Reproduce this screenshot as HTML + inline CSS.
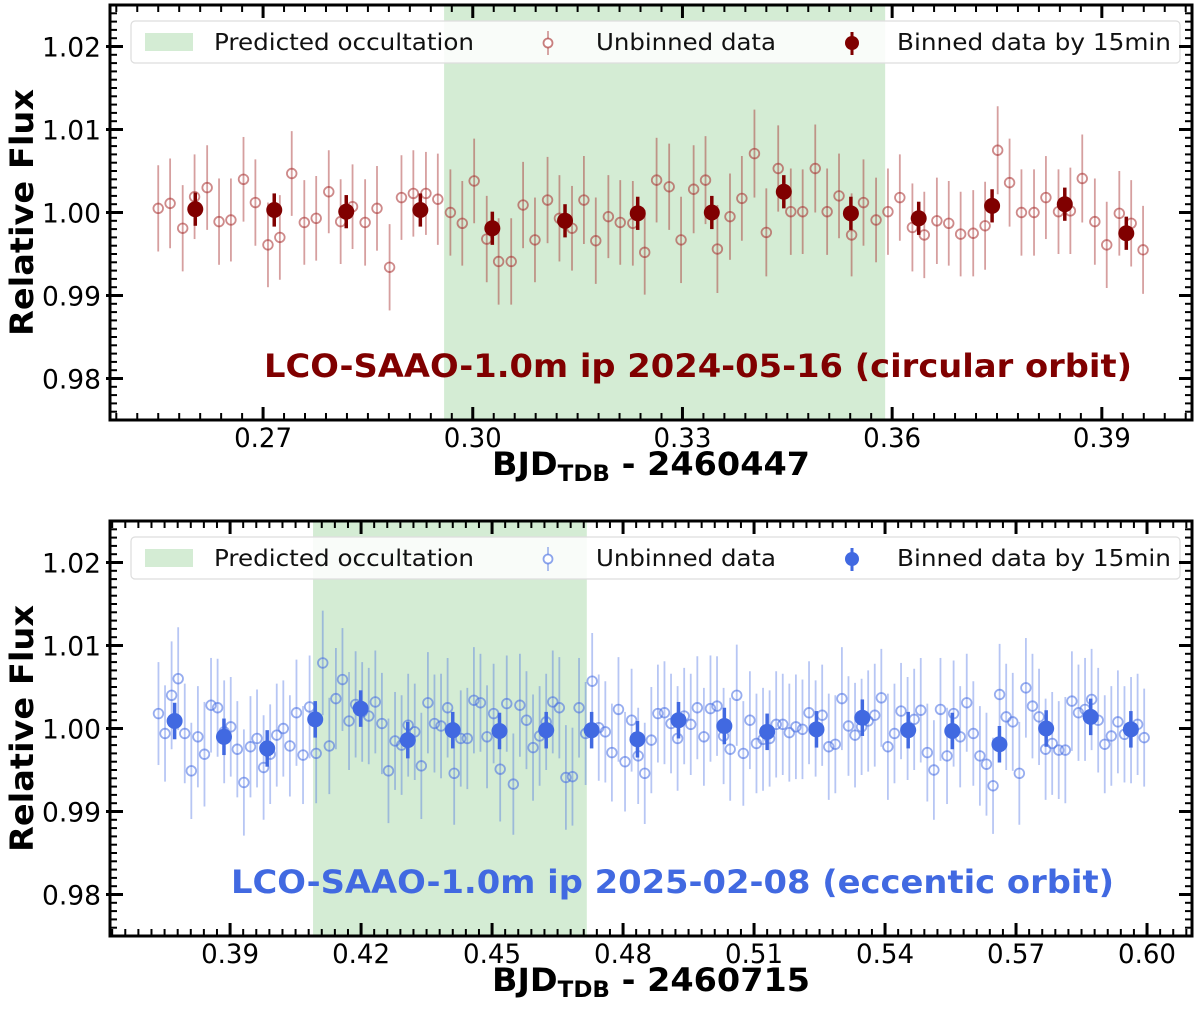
<!DOCTYPE html>
<html><head><meta charset="utf-8"><style>
html,body{margin:0;padding:0;background:#fff;}
svg{display:block;font-family:"DejaVu Sans","Liberation Sans",sans-serif;}
</style></head><body>
<svg id="fig" width="1200" height="1009" viewBox="0 0 1200 1009" xmlns="http://www.w3.org/2000/svg"></svg>
<script>
// ---------- TOP PANEL DATA ----------
const topTimes=[0.2550,0.2567,0.2585,0.2602,0.2620,0.2637,0.2654,0.2672,0.2689,0.2707,0.2724,0.2741,0.2759,0.2776,0.2794,0.2811,0.2828,0.2846,0.2863,0.2881,0.2898,0.2915,0.2933,0.2950,0.2968,0.2985,0.3002,0.3020,0.3037,0.3055,0.3072,0.3089,0.3107,0.3124,0.3142,0.3159,0.3176,0.3194,0.3211,0.3229,0.3246,0.3263,0.3281,0.3298,0.3316,0.3333,0.3350,0.3368,0.3385,0.3403,0.3420,0.3437,0.3455,0.3472,0.3490,0.3507,0.3524,0.3542,0.3559,0.3577,0.3594,0.3611,0.3629,0.3646,0.3664,0.3681,0.3698,0.3716,0.3733,0.3751,0.3768,0.3785,0.3803,0.3820,0.3838,0.3855,0.3872,0.3890,0.3907,0.3925,0.3942,0.3959];
const topFlux=[0.0005,0.0011,-0.0019,0.0019,0.0030,-0.0011,-0.0009,0.0040,0.0012,-0.0039,-0.0030,0.0047,-0.0012,-0.0007,0.0025,-0.0011,0.0007,-0.0012,0.0005,-0.0066,0.0018,0.0023,0.0023,0.0016,0.0000,-0.0013,0.0038,-0.0032,-0.0059,-0.0059,0.0009,-0.0033,0.0015,-0.0007,-0.0019,0.0015,-0.0034,-0.0005,-0.0012,-0.0013,-0.0048,0.0039,0.0031,-0.0033,0.0028,0.0039,-0.0044,-0.0005,0.0017,0.0071,-0.0024,0.0053,0.0001,0.0001,0.0053,0.0001,0.0020,-0.0027,0.0012,-0.0009,0.0001,0.0018,-0.0018,-0.0027,-0.0010,-0.0013,-0.0026,-0.0025,-0.0016,0.0075,0.0036,0.0000,0.0000,0.0018,0.0001,0.0002,0.0041,-0.0011,-0.0039,-0.0001,-0.0013,-0.0045];
const topErr=[0.0052,0.0054,0.0052,0.0051,0.0051,0.0052,0.0050,0.0051,0.0052,0.0051,0.0051,0.0051,0.0051,0.0051,0.0050,0.0051,0.0051,0.0052,0.0051,0.0052,0.0051,0.0052,0.0050,0.0055,0.0052,0.0051,0.0051,0.0052,0.0052,0.0052,0.0052,0.0051,0.0052,0.0052,0.0051,0.0053,0.0052,0.0050,0.0051,0.0051,0.0051,0.0051,0.0052,0.0052,0.0053,0.0053,0.0053,0.0052,0.0051,0.0053,0.0053,0.0052,0.0052,0.0051,0.0053,0.0052,0.0051,0.0050,0.0052,0.0051,0.0052,0.0052,0.0053,0.0052,0.0052,0.0051,0.0051,0.0052,0.0053,0.0053,0.0053,0.0052,0.0052,0.0050,0.0051,0.0052,0.0053,0.0052,0.0052,0.0051,0.0052,0.0053];
const topBinTimes=[0.2603,0.2716,0.2819,0.2925,0.3028,0.3132,0.3236,0.3342,0.3445,0.3541,0.3638,0.3743,0.3847,0.3935];
const topBinFlux=[0.0004,0.0003,0.0001,0.0003,-0.0019,-0.0010,-0.0001,0.0000,0.0025,-0.0001,-0.0007,0.0008,0.0010,-0.0025];
const topBinErr=[0.0020,0.0020,0.0020,0.0020,0.0020,0.0020,0.0020,0.0020,0.0020,0.0020,0.0020,0.0020,0.0020,0.0020];
const topXTicks=[0.27,0.30,0.33,0.36,0.39];
const topXTickLabels=["0.27","0.30","0.33","0.36","0.39"];
const topShade=[0.2959,0.3590];
// ---------- BOTTOM PANEL DATA ----------
const botStart=0.3736, botCadence=0.001505;
const botFlux=[0.0018,-0.0006,0.0040,0.0060,-0.0006,-0.0051,-0.0010,-0.0031,0.0028,0.0025,-0.0004,0.0002,-0.0025,-0.0065,-0.0022,-0.0012,-0.0047,-0.0031,-0.0008,0.0000,-0.0021,0.0019,-0.0032,0.0026,-0.0030,0.0079,-0.0021,0.0036,0.0059,0.0009,0.0029,0.0020,0.0015,0.0032,0.0006,-0.0051,-0.0015,-0.0020,0.0004,-0.0004,-0.0045,0.0031,0.0006,0.0003,0.0025,-0.0054,-0.0012,-0.0012,0.0034,0.0031,-0.0010,0.0018,-0.0049,0.0030,-0.0067,0.0028,0.0010,-0.0023,-0.0009,0.0008,0.0032,0.0025,-0.0059,-0.0058,0.0025,-0.0006,0.0057,0.0001,-0.0004,-0.0029,0.0023,-0.0040,0.0010,-0.0033,-0.0054,-0.0014,0.0018,0.0019,0.0006,-0.0012,0.0015,0.0005,0.0025,-0.0010,0.0024,0.0027,-0.0009,-0.0025,0.0040,-0.0030,0.0010,-0.0018,-0.0013,-0.0012,0.0005,0.0005,-0.0005,0.0002,-0.0001,0.0019,0.0000,0.0016,-0.0022,-0.0019,0.0036,0.0003,-0.0008,0.0002,0.0009,0.0016,0.0037,-0.0022,-0.0006,0.0021,0.0000,0.0011,0.0022,-0.0029,-0.0050,0.0023,-0.0033,0.0018,-0.0010,0.0031,-0.0006,-0.0033,-0.0043,-0.0069,0.0041,0.0014,0.0008,-0.0054,0.0049,0.0027,0.0014,-0.0025,-0.0018,-0.0026,-0.0026,0.0033,0.0019,0.0023,0.0035,0.0010,-0.0019,-0.0009,0.0008,-0.0007,-0.0002,0.0005,-0.0011];
const botErr=[0.0062,0.0058,0.0065,0.0062,0.0060,0.0058,0.0061,0.0063,0.0057,0.0059,0.0062,0.0060,0.0058,0.0064,0.0061,0.0059,0.0063,0.0060,0.0062,0.0058,0.0061,0.0064,0.0059,0.0062,0.0060,0.0063,0.0058,0.0061,0.0062,0.0059,0.0064,0.0060,0.0058,0.0062,0.0061,0.0063,0.0059,0.0060,0.0062,0.0058,0.0064,0.0061,0.0059,0.0063,0.0060,0.0062,0.0058,0.0061,0.0064,0.0059,0.0062,0.0060,0.0063,0.0058,0.0061,0.0062,0.0059,0.0064,0.0060,0.0058,0.0062,0.0061,0.0063,0.0059,0.0060,0.0062,0.0058,0.0064,0.0061,0.0059,0.0063,0.0060,0.0062,0.0058,0.0061,0.0064,0.0059,0.0062,0.0060,0.0063,0.0058,0.0061,0.0062,0.0059,0.0064,0.0060,0.0058,0.0062,0.0061,0.0063,0.0059,0.0060,0.0062,0.0058,0.0064,0.0061,0.0059,0.0063,0.0060,0.0062,0.0058,0.0061,0.0064,0.0059,0.0062,0.0060,0.0063,0.0058,0.0061,0.0062,0.0059,0.0064,0.0060,0.0058,0.0062,0.0061,0.0063,0.0059,0.0060,0.0062,0.0058,0.0064,0.0061,0.0059,0.0063,0.0060,0.0062,0.0058,0.0061,0.0064,0.0059,0.0062,0.0060,0.0063,0.0058,0.0061,0.0062,0.0059,0.0064,0.0060,0.0058,0.0062,0.0061,0.0063,0.0059,0.0060,0.0062,0.0058,0.0064,0.0061,0.0059];
const botBinTimes=[0.3773,0.3886,0.3985,0.4095,0.4199,0.4307,0.4410,0.4517,0.4624,0.4728,0.4833,0.4927,0.5032,0.5130,0.5243,0.5348,0.5453,0.5554,0.5662,0.5769,0.5871,0.5963];
const botBinFlux=[0.0009,-0.0010,-0.0024,0.0011,0.0024,-0.0014,-0.0002,-0.0003,-0.0002,-0.0002,-0.0013,0.0010,0.0003,-0.0004,-0.0001,0.0013,-0.0002,-0.0003,-0.0019,0.0000,0.0014,-0.0001];
const botBinErr=[0.0022,0.0022,0.0022,0.0022,0.0022,0.0022,0.0022,0.0022,0.0022,0.0022,0.0022,0.0022,0.0022,0.0022,0.0022,0.0022,0.0022,0.0022,0.0022,0.0022,0.0022,0.0022];
const botXTicks=[0.39,0.42,0.45,0.48,0.51,0.54,0.57,0.60];
const botXTickLabels=["0.39","0.42","0.45","0.48","0.51","0.54","0.57","0.60"];
const botShade=[0.4090,0.4717];
const yTicks=[0.98,0.99,1.00,1.01,1.02];
const yTickLabels=["0.98","0.99","1.00","1.01","1.02"];

const NS="http://www.w3.org/2000/svg";
const svg=document.getElementById('fig');
function mk(tag,attrs,parent,text){const e=document.createElementNS(NS,tag);for(const k in attrs)e.setAttribute(k,attrs[k]);if(text!==undefined)e.textContent=text;(parent||svg).appendChild(e);return e;}

function panel(cfg){
  const L=110,R=1192,T=cfg.top,B=cfg.top+415;
  const xs=v=>L+(v-cfg.xmin)/(cfg.xmax-cfg.xmin)*(R-L);
  const ys=v=>B-(v-0.975)/(0.05)*(B-T);
  const g=mk('g',{});
  
  
  const sh=mk('rect',{x:xs(cfg.shade[0]),y:T,width:xs(cfg.shade[1])-xs(cfg.shade[0]),height:B-T,fill:'#d4ecd4'},g);
  
  
  const ug=mk('g',{},g);
  
  
  for(let i=0;i<cfg.flux.length;i++){
    const t=cfg.times[i],x=xs(t),y=ys(1+cfg.flux[i]),e=cfg.err[i];
    const ln=mk('line',{x1:x,x2:x,y1:ys(1+cfg.flux[i]+e),y2:ys(1+cfg.flux[i]-e),stroke:cfg.color,'stroke-opacity':cfg.errOp,'stroke-width':1.8},ug);
    
    
    const c=mk('circle',{cx:x,cy:y,r:4.8,fill:'none',stroke:cfg.color,'stroke-opacity':0.55,'stroke-width':1.8},ug);
    
    
  }
  const bg=mk('g',{},g);
  
  
  for(let i=0;i<cfg.binTimes.length;i++){
    const x=xs(cfg.binTimes[i]),v=1+cfg.binFlux[i],e=cfg.binErr[i];
    const ln=mk('line',{x1:x,x2:x,y1:ys(v+e),y2:ys(v-e),stroke:cfg.dark,'stroke-width':3.5},bg);
    
    
    const c=mk('circle',{cx:x,cy:ys(v),r:8,fill:cfg.dark},bg);
    
    
  }
  const lg=mk('g',{},g);
  
  
  mk('rect',{x:131,y:T+16,width:1049,height:42,rx:4,fill:'#fff','fill-opacity':0.85,stroke:'#ddd','stroke-width':1.2},lg);
  mk('rect',{x:145,y:T+28,width:48,height:18,fill:'#d4ecd4'},lg);
  const t1=mk('text',{x:214,y:T+45,'font-size':23,fill:'#111',textLength:260,lengthAdjust:'spacingAndGlyphs'},lg,'Predicted occultation');
  
  
  mk('line',{x1:548,x2:548,y1:T+26,y2:T+50,stroke:cfg.color,'stroke-opacity':0.45,'stroke-width':1.8},lg);
  mk('circle',{cx:548,cy:T+38,r:4.5,fill:'#fff',stroke:cfg.color,'stroke-opacity':0.6,'stroke-width':1.8},lg);
  const t2=mk('text',{x:596,y:T+45,'font-size':23,fill:'#111',textLength:180,lengthAdjust:'spacingAndGlyphs'},lg,'Unbinned data');
  
  
  mk('line',{x1:852,x2:852,y1:T+27,y2:T+50,stroke:cfg.dark,'stroke-width':3},lg);
  mk('circle',{cx:852,cy:T+38,r:7,fill:cfg.dark},lg);
  const t3=mk('text',{x:897,y:T+45,'font-size':23,fill:'#111',textLength:274,lengthAdjust:'spacingAndGlyphs'},lg,'Binned data by 15min');
  
  
  const an=mk('text',{x:cfg.annX,y:cfg.top+372,'font-size':32,'font-weight':'bold',fill:cfg.dark,textLength:cfg.annW,lengthAdjust:'spacingAndGlyphs'},g,cfg.ann);
  
  
  const tk=mk('g',{stroke:'#000'},g);
  
  
  for(let v=cfg.xminor0;v<=cfg.xmax+1e-9;v+=0.003){
    if(v<cfg.xmin)continue;const x=xs(v);
    mk('line',{x1:x,x2:x,y1:B,y2:B-7,'stroke-width':2},tk);
    mk('line',{x1:x,x2:x,y1:T,y2:T+7,'stroke-width':2},tk);
  }
  for(let k=0;k<=50;k++){const y=ys(0.975+k*0.001);
    mk('line',{x1:L,x2:L+7,y1:y,y2:y,'stroke-width':2},tk);
    mk('line',{x1:R,x2:R-7,y1:y,y2:y,'stroke-width':2},tk);}
  cfg.xticks.forEach((v,i)=>{const x=xs(v);
    mk('line',{x1:x,x2:x,y1:B,y2:B-13,'stroke-width':3},tk);
    mk('line',{x1:x,x2:x,y1:T,y2:T+13,'stroke-width':3},tk);
    const tl=mk('text',{x:x,y:B+27,'font-size':27,'text-anchor':'middle',fill:'#000',stroke:'none',textLength:58,lengthAdjust:'spacingAndGlyphs'},g,cfg.xlabels[i]);
    
    
  });
  yTicks.forEach((v,i)=>{const y=ys(v);
    mk('line',{x1:L-4,x2:L+13,y1:y,y2:y,'stroke-width':3},tk);
    mk('line',{x1:R,x2:R-13,y1:y,y2:y,'stroke-width':3},tk);
    const tl=mk('text',{x:101,y:y+10,'font-size':27,'text-anchor':'end',fill:'#000',stroke:'none',textLength:59,lengthAdjust:'spacingAndGlyphs'},g,yTickLabels[i]);
    
    
  });
  const fr=mk('rect',{x:L,y:T,width:R-L,height:B-T,fill:'none',stroke:'#000','stroke-width':3},g);
  
  
  const yl=mk('text',{x:0,y:0,transform:`translate(33,${(T+B)/2}) rotate(-90)`,'font-size':32,'font-weight':'bold','text-anchor':'middle',fill:'#000',textLength:247,lengthAdjust:'spacingAndGlyphs'},g,'Relative Flux');
  
  
  const xl=mk('text',{x:492,y:B+55,'font-size':32,'font-weight':'bold',fill:'#000'},g);
  
  
  mk('tspan',{},xl,'BJD');
  mk('tspan',{'font-size':22,dy:6},xl,'TDB');
  mk('tspan',{dy:-6},xl,' - '+cfg.offset);
  xl.setAttribute('textLength',318);
  xl.setAttribute('lengthAdjust','spacingAndGlyphs');
}
const botTimes=botFlux.map((_,i)=>botStart+i*botCadence);
panel({name:'top',top:5,xmin:0.2481,xmax:0.4029,xminor0:0.249,shade:topShade,times:topTimes,flux:topFlux,err:topErr,
  binTimes:topBinTimes,binFlux:topBinFlux,binErr:topBinErr,xticks:topXTicks,xlabels:topXTickLabels,errOp:0.45,
  color:'#a52a2a',dark:'#800000',ann:'LCO-SAAO-1.0m ip 2024-05-16 (circular orbit)',annX:264,annW:868,offset:'2460447'});
panel({name:'bottom',top:521,xmin:0.3625,xmax:0.6103,xminor0:0.363,shade:botShade,times:botTimes,flux:botFlux,err:botErr,
  binTimes:botBinTimes,binFlux:botBinFlux,binErr:botBinErr,xticks:botXTicks,xlabels:botXTickLabels,errOp:0.38,
  color:'#4169e1',dark:'#4169e1',ann:'LCO-SAAO-1.0m ip 2025-02-08 (eccentic orbit)',annX:231,annW:883,offset:'2460715'});
</script>
</body></html>
